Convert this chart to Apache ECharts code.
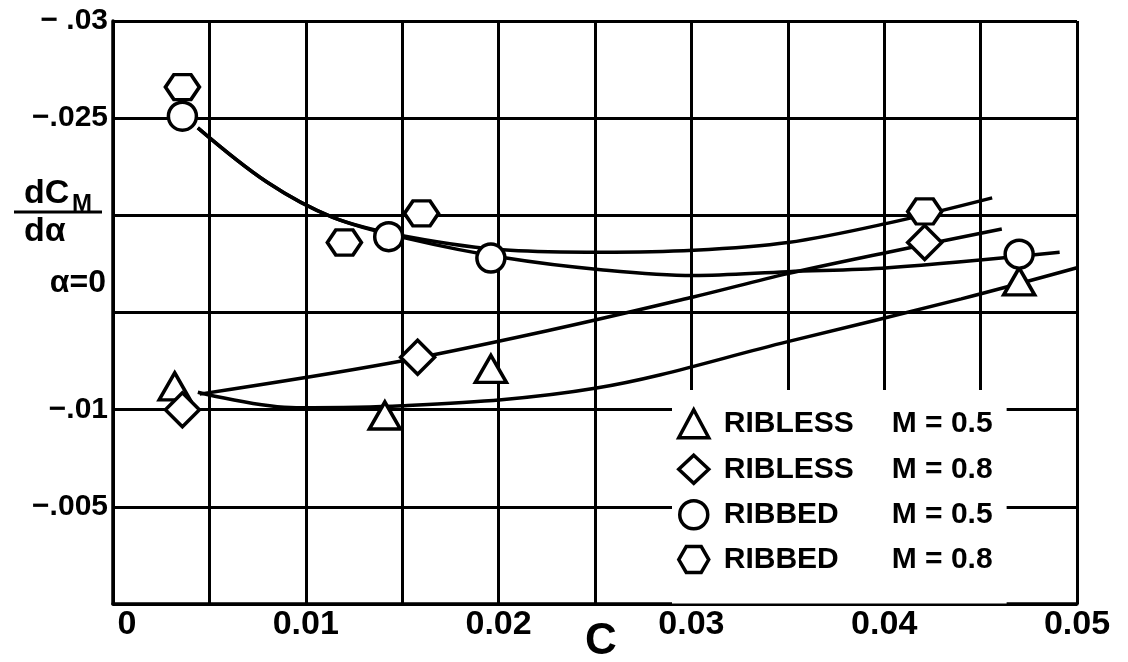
<!DOCTYPE html>
<html>
<head>
<meta charset="utf-8">
<script src="https://cdn.jsdelivr.net/npm/echarts@6/dist/echarts.min.js"></script>
<style>
html,body{margin:0;padding:0;background:#fff;}
#chart{width:1128px;height:662px;}
</style>
</head>
<body>
<div id="chart"></div>
<script>
// ---- tick labels ----
const xTickValues = [0, 0.01, 0.02, 0.03, 0.04, 0.05];
const xTickLabels = ['0', '0.01', '0.02', '0.03', '0.04', '0.05'];
const yTickValues = [-0.03, -0.025, -0.01, -0.005];
const yTickLabels = ['\u2212 .03', '\u2212.025', '\u2212.01', '\u2212.005'];

// ---- series / legend ----
const seriesNames = ['RIBLESS M = 0.5', 'RIBLESS M = 0.8', 'RIBBED M = 0.5', 'RIBBED M = 0.8'];
const legendMaterial = ['RIBLESS', 'RIBLESS', 'RIBBED', 'RIBBED'];
const legendMach = ['M = 0.5', 'M = 0.8', 'M = 0.5', 'M = 0.8'];

// ---- measured points [C, dCm/dalpha] ----
const riblessM05Points = [[0.0032, -0.0112], [0.0141, -0.0097], [0.0196, -0.0121], [0.0470, -0.0166]];
const riblessM08Points = [[0.0036, -0.0100], [0.0158, -0.0127], [0.0421, -0.0186]];
const ribbedM05Points  = [[0.0036, -0.0251], [0.0143, -0.0189], [0.0196, -0.0178], [0.0470, -0.0180]];
const ribbedM08Points  = [[0.0036, -0.0266], [0.0120, -0.0186], [0.0160, -0.0201], [0.0421, -0.0202]];

// ---- faired curves ----
const riblessM05Curve = [[0.0044, -0.0109], [0.0095, -0.0101], [0.0150, -0.0102], [0.0250, -0.0111],
  [0.0350, -0.0135], [0.0440, -0.0157], [0.0500, -0.0173]];
const riblessM08Curve = [[0.0045, -0.0108], [0.0144, -0.0124], [0.0227, -0.0141], [0.0301, -0.0158],
  [0.0350, -0.0170], [0.0402, -0.0181], [0.0461, -0.0193]];
const ribbedM08Curve = [[0.0044, -0.0245], [0.0080, -0.0217], [0.0114, -0.0199], [0.0153, -0.0189],
  [0.0206, -0.0182], [0.0253, -0.0181], [0.0301, -0.0182], [0.0350, -0.0186], [0.0402, -0.0196], [0.0456, -0.0209]];
const ribbedM05Curve = [[0.0044, -0.0245], [0.0080, -0.0217], [0.0114, -0.0199], [0.0153, -0.0188],
  [0.0204, -0.0178], [0.0253, -0.0172], [0.0301, -0.0169], [0.0350, -0.0171], [0.0402, -0.0173], [0.0491, -0.0181]];

const FONT = '"Liberation Sans", Arial, sans-serif';
const HEX = 'path://M0,4.33L2.5,0L7.5,0L10,4.33L7.5,8.66L2.5,8.66Z';
const symbols = ['triangle', 'diamond', 'circle', HEX];
const symbolSizes = [[31, 27], [34, 34], [28, 28], [34, 29]];
const pointSets = [riblessM05Points, riblessM08Points, ribbedM05Points, ribbedM08Points];
const curveSets = [riblessM05Curve, riblessM08Curve, ribbedM05Curve, ribbedM08Curve];

function findLabel(vals, labels, v) {
  for (let i = 0; i < vals.length; i++) if (Math.abs(vals[i] - v) < 1e-9) return labels[i];
  return '';
}

const series = [];
curveSets.forEach(function (c, i) {
  series.push({
    name: 'curve' + i, type: 'line', data: c, showSymbol: false, symbol: 'none',
    smooth: 0.35, silent: true, z: 2,
    lineStyle: { color: '#000', width: 3.5 }
  });
});
pointSets.forEach(function (p, i) {
  series.push({
    name: seriesNames[i], type: 'scatter', data: p, symbol: symbols[i], symbolSize: symbolSizes[i],
    symbolKeepAspect: true, z: 3,
    itemStyle: { color: '#fff', borderColor: '#000', borderWidth: 3.5, opacity: 1 }
  });
});

const chart = echarts.init(document.getElementById('chart'), null, { renderer: 'canvas' });
chart.setOption({
  animation: false,
  backgroundColor: '#fff',
  grid: { left: 113, right: 51, top: 21, bottom: 58, containLabel: false, outerBoundsMode: 'none' },
  xAxis: {
    type: 'value', min: 0, max: 0.05, interval: 0.005,
    name: 'C', nameLocation: 'middle', nameGap: 16, nameMoveOverlap: false,
    nameTextStyle: { fontFamily: FONT, fontWeight: 'bold', fontSize: 44, color: '#000', padding: [0, 0, 0, 12] },
    axisLine: { show: true, lineStyle: { color: '#000', width: 3.5 } },
    axisTick: { show: false },
    splitLine: { show: true, lineStyle: { color: '#000', width: 3 } },
    axisLabel: {
      margin: 4, fontFamily: FONT, fontWeight: 'bold', fontSize: 34, color: '#000',
      formatter: function (v) {
        const t = findLabel(xTickValues, xTickLabels, v);
        return (t && v === 0) ? '{z|' + t + '}' : t;
      },
      rich: { z: { fontFamily: FONT, fontWeight: 'bold', fontSize: 34, color: '#000', padding: [0, 0, 0, 28] } }
    }
  },
  yAxis: {
    type: 'value', min: -0.03, max: 0, interval: 0.005, inverse: true,
    axisLine: { show: true, onZero: false, lineStyle: { color: '#000', width: 3.5 } },
    axisTick: { show: false },
    splitLine: { show: true, lineStyle: { color: '#000', width: 3 } },
    axisLabel: {
      margin: 5, fontFamily: FONT, fontWeight: 'bold', fontSize: 30, color: '#000',
      formatter: function (v) { return findLabel(yTickValues, yTickLabels, v); }
    }
  },
  legend: {
    orient: 'vertical', left: 672, top: 390,
    padding: [18, 14, 29, 5],
    backgroundColor: '#fff',
    itemWidth: 30, itemHeight: 28, itemGap: 14,
    selectedMode: false,
    data: seriesNames.map(function (n, i) { return { name: n, icon: symbols[i] }; }),
    itemStyle: { color: '#fff', borderColor: '#000', borderWidth: 3.5 },
    formatter: function (name) {
      const i = seriesNames.indexOf(name);
      return '{a|' + legendMaterial[i] + '}{b|' + legendMach[i] + '}';
    },
    textStyle: {
      fontFamily: FONT, fontWeight: 'bold', fontSize: 30, color: '#000', lineHeight: 30,
      rich: {
        a: { fontFamily: FONT, fontWeight: 'bold', fontSize: 30, lineHeight: 30, width: 168, padding: [0, 0, 0, 10], color: '#000' },
        b: { fontFamily: FONT, fontWeight: 'bold', fontSize: 30, lineHeight: 30, color: '#000' }
      }
    }
  },
  graphic: [
    { type: 'text', x: 24, y: 194, style: { text: 'dC', font: 'bold 34px ' + FONT, fill: '#000', verticalAlign: 'middle' } },
    { type: 'text', x: 72, y: 204, style: { text: 'M', font: 'bold 24px ' + FONT, fill: '#000', verticalAlign: 'middle' } },
    { type: 'line', shape: { x1: 14, y1: 212, x2: 102, y2: 212 }, style: { stroke: '#000', lineWidth: 3 } },
    { type: 'text', x: 24, y: 232, style: { text: 'd\u03b1', font: 'bold 34px ' + FONT, fill: '#000', verticalAlign: 'middle' } },
    { type: 'text', x: 106, y: 283, style: { text: '\u03b1=0', font: 'bold 32px ' + FONT, fill: '#000', align: 'right', verticalAlign: 'middle' } }
  ],
  series: series
});
</script>
</body>
</html>
